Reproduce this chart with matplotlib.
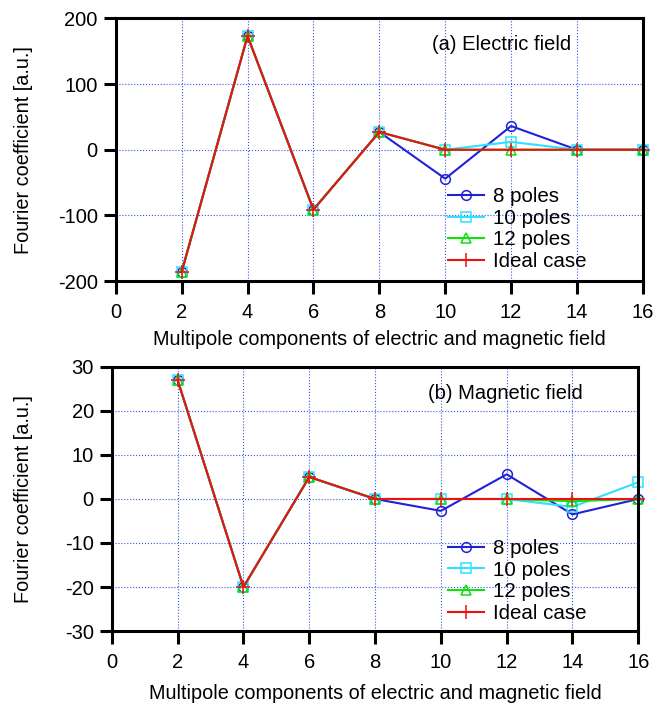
import matplotlib.pyplot as plt

plt.rcParams['font.family'] = ['Liberation Sans', 'DejaVu Sans']
plt.rcParams['axes.unicode_minus'] = False

# multipole order on x axis
orders = [2, 4, 6, 8, 10, 12, 14, 16]

# (a) electric field
e_8poles = [-186, 173, -91, 27, -44, 36, 0, 0]
e_10poles = [-186, 173, -91, 27, 0, 12, 0, 0]
e_12poles = [-186, 173, -91, 27, 0, 0, 0, 0]
e_ideal = [-186, 173, -91, 27, 0, 0, 0, 0]

# (b) magnetic field
m_8poles = [27, -20, 5, 0, -2.7, 5.6, -3.5, 0]
m_10poles = [27, -20, 5, 0, 0, 0, -1.8, 3.8]
m_12poles = [27, -20, 5, 0, 0, 0, -0.5, 0]
m_ideal = [27, -20, 5, 0, 0, 0, 0, 0]

labels = ['8 poles', '10 poles', '12 poles', 'Ideal case']
colors = ['#2020d8', '#30e0ff', '#10e010', '#ee1010']
markers = ['o', 's', '^', '+']

fig = plt.figure(figsize=(6.54, 7.03), dpi=100)
ax1 = fig.add_axes([0.177, 0.600, 0.806, 0.374])
ax2 = fig.add_axes([0.171, 0.1024, 0.805, 0.3756])


def draw(ax, series, ylim, yticks, title, title_xy, leg_xy, ylab_x, xlab_y):
    for ys, lab, c, m in zip(series, labels, colors, markers):
        ax.plot(orders, ys, color=c, lw=1.5, marker=m, ms=7 if m != '+' else 10,
                mfc='none', mec=c, mew=1.1, label=lab, clip_on=False)
    ax.set_xlim(0, 16)
    ax.set_ylim(*ylim)
    ax.set_xticks(range(0, 17, 2))
    ax.set_yticks(yticks)
    ax.grid(True, color='#3355ee', ls=':', lw=0.8)
    ax.set_axisbelow(True)
    for s in ax.spines.values():
        s.set_linewidth(2.2)
    ax.tick_params(direction='out', length=9, width=2.2, labelsize=14.5)
    ax.tick_params(axis='x', pad=7)
    ax.tick_params(axis='y', pad=4)
    ax.set_xlabel('Multipole components of electric and magnetic field', fontsize=14.3)
    ax.set_ylabel('Fourier coefficient [a.u.]', fontsize=14.3)
    ax.yaxis.set_label_coords(ylab_x, 0.5)
    ax.xaxis.set_label_coords(0.5, xlab_y)
    ax.text(title_xy[0], title_xy[1], title, transform=ax.transAxes,
            fontsize=14.5, va='center')
    ax.legend(loc='upper left', bbox_to_anchor=leg_xy, frameon=False,
              fontsize=14.8, handlelength=1.75, handletextpad=0.45,
              labelspacing=0.13, borderaxespad=0, borderpad=0)


draw(ax1, [e_8poles, e_10poles, e_12poles, e_ideal], (-200, 200),
     [-200, -100, 0, 100, 200], '(a) Electric field', (0.60, 0.902),
     (0.63, 0.358), -0.157, -0.186)
draw(ax2, [m_8poles, m_10poles, m_12poles, m_ideal], (-30, 30),
     [-30, -20, -10, 0, 10, 20, 30], '(b) Magnetic field', (0.60, 0.898),
     (0.639, 0.349), -0.150, -0.200)

fig.savefig('out.png', dpi=100)
